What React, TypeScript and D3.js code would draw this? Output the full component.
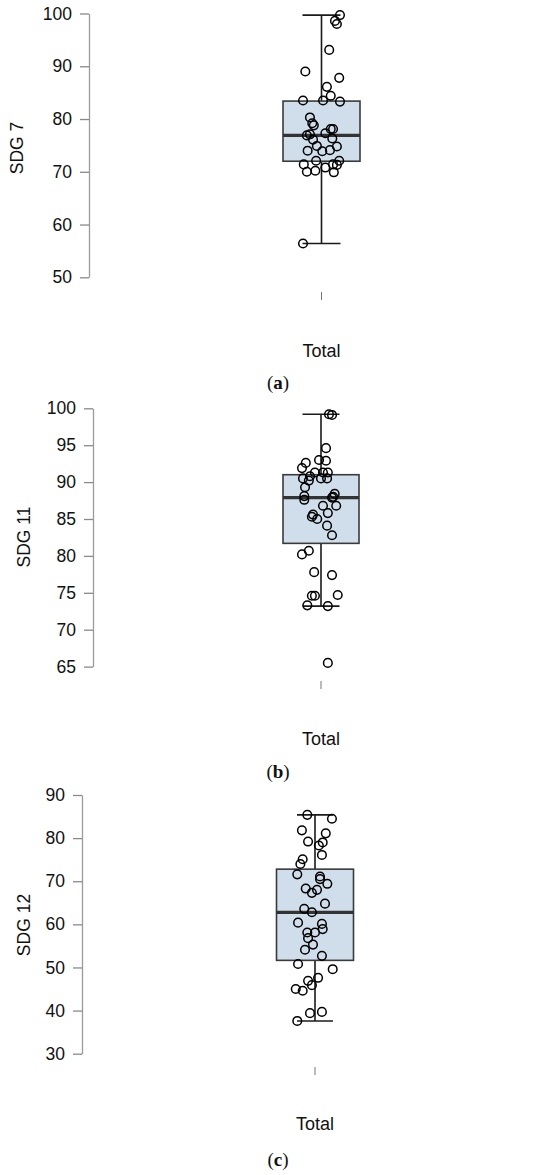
import React, { useRef, useEffect } from 'react'
import * as d3 from 'd3'

// category on the x axis
const categories = ['Total']

// SDG 7 scores and horizontal jitter (fraction of box width)
const sdg7Values = [99.7, 98.6, 98.0, 93.1, 89.0, 87.8, 86.1, 84.4, 83.5, 83.5, 83.3, 80.3, 79.2, 78.8, 78.1, 78.1, 76.9, 77.1, 77.3, 76.1, 76.3, 74.9, 74.8, 74.0, 73.9, 74.1, 72.1, 72.1, 71.4, 71.3, 71.4, 70.8, 70.0, 70.2, 69.9, 56.4]
const sdg7Jitter = [0.24, 0.175, 0.2, 0.1, -0.21, 0.23, 0.07, 0.12, -0.24, 0.02, 0.24, -0.15, -0.12, -0.1, 0.12, 0.15, -0.19, -0.15, 0.05, -0.11, 0.14, -0.06, 0.2, -0.18, 0.01, 0.11, -0.07, 0.23, -0.23, 0.2, 0.15, 0.05, -0.19, -0.08, 0.16, -0.24]
// [lower whisker, q1, median, q3, upper whisker]
const sdg7Box = [56.4, 72.0, 76.9, 83.4, 99.7]
const sdg7Ticks = [50, 60, 70, 80, 90, 100]

const sdg11Values = [99.2, 99.1, 94.6, 93.0, 92.9, 92.6, 91.9, 91.3, 91.3, 91.3, 90.8, 90.5, 90.5, 90.5, 90.2, 89.3, 88.1, 88.4, 88.0, 87.9, 87.6, 86.8, 86.8, 85.6, 85.3, 85.8, 85.0, 84.1, 82.8, 80.2, 80.7, 77.8, 77.4, 74.6, 74.6, 74.7, 73.3, 73.2, 65.5]
const sdg11Jitter = [0.105, 0.145, 0.066, -0.026, 0.066, -0.2, -0.25, -0.08, 0.026, 0.09, -0.145, -0.237, 0, 0.08, -0.16, -0.21, -0.22, 0.18, 0.16, 0.145, -0.22, 0.026, 0.2, -0.105, -0.12, 0.09, -0.05, 0.08, 0.145, -0.25, -0.16, -0.09, 0.145, -0.12, -0.08, 0.22, -0.18, 0.09, 0.09]
const sdg11Box = [73.2, 81.7, 87.9, 91.0, 99.2]
const sdg11Ticks = [65, 70, 75, 80, 85, 90, 95, 100]

const sdg12Values = [85.4, 84.5, 81.8, 81.1, 79.2, 79.0, 78.3, 76.1, 75.1, 74.0, 71.6, 71.1, 70.5, 69.4, 68.3, 68.0, 67.3, 64.8, 63.6, 62.8, 60.4, 60.1, 58.1, 58.1, 58.9, 56.8, 55.3, 54.1, 52.7, 50.8, 49.6, 46.9, 47.6, 45.9, 45.0, 44.6, 39.4, 39.7, 37.6]
const sdg12Jitter = [-0.1, 0.22, -0.17, 0.14, -0.09, 0.1, 0.05, 0.09, -0.16, -0.19, -0.23, 0.065, 0.065, 0.16, -0.12, 0.026, -0.04, 0.13, -0.14, -0.04, -0.22, 0.09, -0.1, 0, 0.1, -0.09, -0.026, -0.13, 0.09, -0.22, 0.23, -0.09, 0.04, -0.04, -0.25, -0.16, -0.065, 0.09, -0.23]
const sdg12Box = [37.6, 51.65, 62.8, 72.8, 85.4]
const sdg12Ticks = [30, 40, 50, 60, 70, 80, 90]

const panels = [
  { label: 'SDG 7', caption: 'a', values: sdg7Values, jitter: sdg7Jitter, box: sdg7Box, ticks: sdg7Ticks,
    axisX: 89, yTop: 13.5, yBottom: 277.3, center: 321.5, boxW: 77, capW: 38, tickY: 292, totalY: 357, capY: 389, labelX: 23, labelY: 148 },
  { label: 'SDG 11', caption: 'b', values: sdg11Values, jitter: sdg11Jitter, box: sdg11Box, ticks: sdg11Ticks,
    axisX: 93, yTop: 408.3, yBottom: 666.6, center: 321, boxW: 76, capW: 37, tickY: 681, totalY: 745, capY: 778, labelX: 30, labelY: 537 },
  { label: 'SDG 12', caption: 'c', values: sdg12Values, jitter: sdg12Jitter, box: sdg12Box, ticks: sdg12Ticks,
    axisX: 82, yTop: 795, yBottom: 1053.7, center: 315, boxW: 77, capW: 36, tickY: 1067, totalY: 1130, capY: 1166, labelX: 30, labelY: 925 },
]

const W = 550
const H = 1175
const sans = 'Liberation Sans, Arial, Helvetica, sans-serif'

const App = () => {
  const ref = useRef<SVGSVGElement>(null)
  useEffect(() => {
    const svg = d3.select(ref.current)
    svg.selectAll('*').remove()

    panels.forEach(p => {
      const dom = d3.extent(p.ticks) as [number, number]
      const y = d3.scaleLinear().domain(dom).range([p.yBottom, p.yTop])
      const x = d3.scaleBand().domain(categories).range([p.center - p.boxW / 2, p.center + p.boxW / 2]).paddingInner(0).paddingOuter(0)
      const g = svg.append('g')

      // y axis
      const yAxis = d3.axisLeft(y).tickValues(p.ticks).tickSize(9).tickSizeOuter(0).tickPadding(8)
      const ya = g.append('g').attr('transform', `translate(${p.axisX},0)`).call(yAxis)
      ya.select('.domain').attr('stroke', '#9a9a9a').attr('stroke-width', 1.3)
      ya.selectAll('.tick line').attr('stroke', '#8a8a8a').attr('stroke-width', 1.3)
      ya.selectAll('.tick text').attr('fill', '#111').style('font-family', sans).style('font-size', '17.5px')

      // x axis (tick + category label)
      const xAxis = d3.axisBottom(x).tickSize(8).tickSizeOuter(0).tickPadding(p.totalY - p.tickY - 8 - 12.8)
      const xa = g.append('g').attr('transform', `translate(0,${p.tickY})`).call(xAxis)
      xa.select('.domain').remove()
      xa.selectAll('.tick line').attr('stroke', '#777').attr('stroke-width', 1)
      xa.selectAll('.tick text').attr('fill', '#111').style('font-family', sans).style('font-size', '18px')

      // y label
      g.append('text')
        .attr('transform', `translate(${p.labelX},${p.labelY}) rotate(-90)`)
        .attr('text-anchor', 'middle')
        .style('font-family', sans).style('font-size', '17.5px').attr('fill', '#111')
        .text(p.label)

      // boxplot
      const cx = (x(categories[0]) as number) + x.bandwidth() / 2
      const [lo, q1, med, q3, hi] = p.box
      g.append('line').attr('x1', cx).attr('x2', cx).attr('y1', y(hi)).attr('y2', y(lo))
        .attr('stroke', '#1a1a1a').attr('stroke-width', 1.6)
      ;[lo, hi].forEach(v => {
        g.append('line').attr('x1', cx - p.capW / 2).attr('x2', cx + p.capW / 2).attr('y1', y(v)).attr('y2', y(v))
          .attr('stroke', '#1a1a1a').attr('stroke-width', 1.6)
      })
      g.append('rect')
        .attr('x', x(categories[0]) as number).attr('width', x.bandwidth())
        .attr('y', y(q3)).attr('height', y(q1) - y(q3))
        .attr('fill', '#cfdeea').attr('stroke', '#3a3a3a').attr('stroke-width', 1.6)
      g.append('line').attr('x1', x(categories[0]) as number).attr('x2', (x(categories[0]) as number) + x.bandwidth())
        .attr('y1', y(med)).attr('y2', y(med))
        .attr('stroke', '#333').attr('stroke-width', 3.2)

      // jittered points
      g.selectAll('.pt')
        .data(p.values)
        .enter().append('circle')
        .attr('class', 'pt')
        .attr('cx', (d, i) => cx + p.jitter[i] * x.bandwidth())
        .attr('cy', d => y(d))
        .attr('r', 4.3)
        .attr('fill', 'none')
        .attr('stroke', '#000')
        .attr('stroke-width', 1.5)

      // caption
      const cap = g.append('text')
        .attr('x', W / 2 + 3).attr('y', p.capY)
        .attr('text-anchor', 'middle')
        .style('font-family', 'Palatino Linotype, Book Antiqua, Palatino, Liberation Serif, serif')
        .style('font-size', '19px').attr('fill', '#111')
      cap.append('tspan').text('(')
      cap.append('tspan').attr('font-weight', 'bold').text(p.caption)
      cap.append('tspan').text(')')
    })
  }, [])
  return (
    <div>
      <svg ref={ref} width={W} height={H} style={{ position: 'absolute', left: 0, top: 0, background: 'white' }}></svg>
    </div>
  )
}

export default App
